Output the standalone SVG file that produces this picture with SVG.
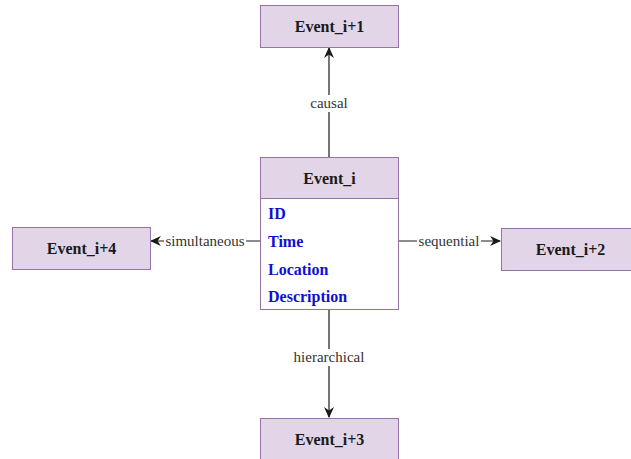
<svg xmlns="http://www.w3.org/2000/svg" width="631" height="459" viewBox="0 0 631 459">
<defs>
<style>
.box{fill:#e1d5e7;stroke:#9673a6;stroke-width:1}
.body{fill:#ffffff;stroke:#9673a6;stroke-width:1}
.t{font-family:"Liberation Serif","Times New Roman","DejaVu Serif",serif;font-weight:bold;font-size:16px;fill:#1a1a1a;text-anchor:middle}
.f{font-family:"Liberation Serif","Times New Roman","DejaVu Serif",serif;font-weight:bold;font-size:16px;fill:#1010d0}
.lbl{font-family:"Liberation Serif","Times New Roman","DejaVu Serif",serif;font-size:15px;fill:#333333;text-anchor:middle}
.edge{stroke:#1a1a1a;stroke-width:1.2;fill:none}
</style>
<marker id="ah" viewBox="0 0 10 10" refX="9" refY="5" markerWidth="11" markerHeight="11" orient="auto" markerUnits="userSpaceOnUse">
<path d="M0,0.5 L10,5 L0,9.5 L3,5 Z" fill="#1a1a1a"/>
</marker>
</defs>
<rect width="631" height="459" fill="#ffffff"/>
<g id="connectors">
<line class="edge" x1="329" y1="157" x2="329" y2="48" marker-end="url(#ah)"/>
<rect x="309" y="95" width="40" height="17" fill="#ffffff"/>
<text class="lbl" x="329" y="108">causal</text>
<line class="edge" x1="260" y1="241" x2="151" y2="241" marker-end="url(#ah)"/>
<rect x="164" y="232" width="82" height="17" fill="#ffffff"/>
<text class="lbl" x="205" y="246">simultaneous</text>
<line class="edge" x1="398" y1="241" x2="500" y2="241" marker-end="url(#ah)"/>
<rect x="417" y="232" width="64" height="17" fill="#ffffff"/>
<text class="lbl" x="449" y="246">sequential</text>
<line class="edge" x1="329" y1="310" x2="329" y2="417" marker-end="url(#ah)"/>
<rect x="292" y="349" width="74" height="17" fill="#ffffff"/>
<text class="lbl" x="329" y="362">hierarchical</text>
</g>
<g id="event_i1">
<rect class="box" x="260.5" y="5.5" width="138" height="42"/>
<text class="t" x="329.5" y="32">Event_i+1</text>
</g>
<g id="event_i">
<rect class="box" x="260.5" y="157.5" width="138" height="152"/>
<rect class="body" x="260.5" y="198.5" width="138" height="111"/>
<text class="t" x="329.5" y="184">Event_i</text>
<text class="f" x="268" y="219">ID</text>
<text class="f" x="268" y="247">Time</text>
<text class="f" x="268" y="275">Location</text>
<text class="f" x="268" y="302">Description</text>
</g>
<g id="event_i4">
<rect class="box" x="12.5" y="227.5" width="138" height="42"/>
<text class="t" x="81.5" y="254">Event_i+4</text>
</g>
<g id="event_i2">
<rect class="box" x="501.5" y="228.5" width="138" height="42"/>
<text class="t" x="570.5" y="255">Event_i+2</text>
</g>
<g id="event_i3">
<rect class="box" x="260.5" y="418.5" width="138" height="42"/>
<text class="t" x="329.5" y="445">Event_i+3</text>
</g>
</svg>
